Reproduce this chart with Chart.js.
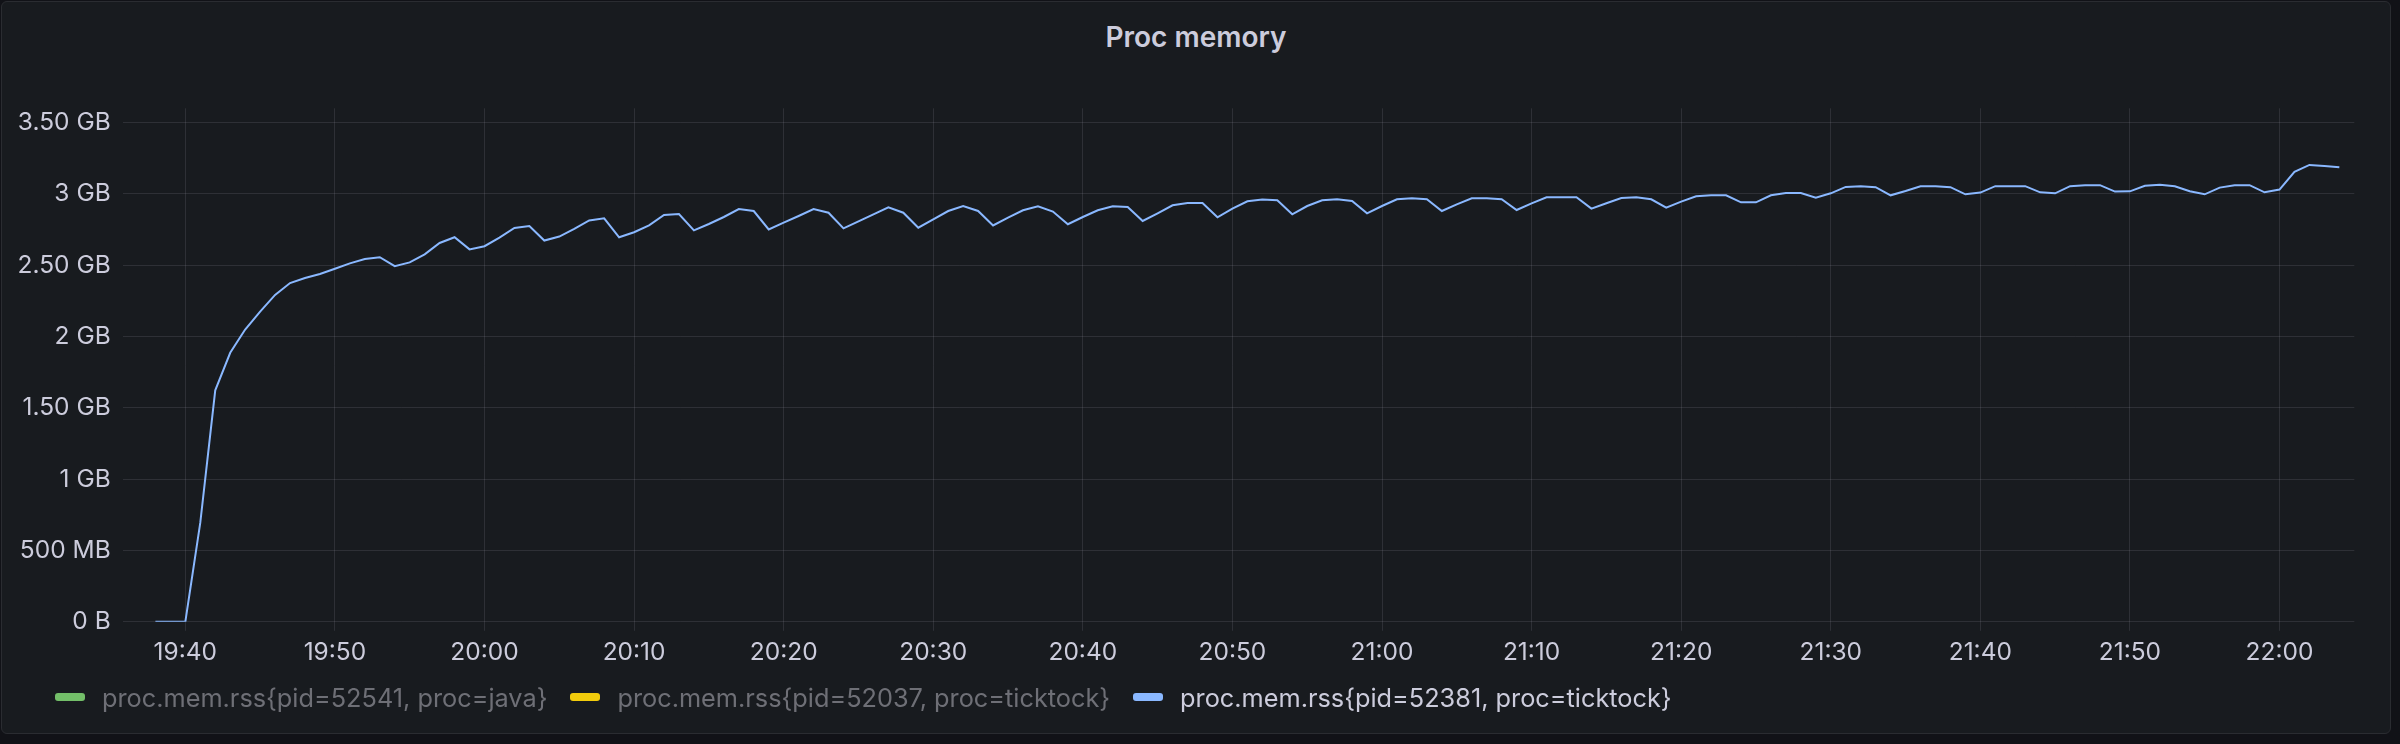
<!DOCTYPE html>
<html>
<head>
<meta charset="utf-8">
<script src="https://cdn.jsdelivr.net/npm/chart.js@4.4.1/dist/chart.umd.min.js"></script>
<style>
  html, body { margin: 0; padding: 0; background: #111217; width: 2400px; height: 744px; overflow: hidden; }
  #panel { position: absolute; left: 1px; top: 1px; width: 2390px; height: 733px; box-sizing: border-box;
           background: #181b1f; border: 1px solid #2a2c31; border-radius: 6px; }
  #chart { position: absolute; left: 0; top: 0; }
  #title { position: absolute; left: 0; width: 2392px; top: 19.5px; line-height: 34px; text-align: center;
           font-family: Inter, "Noto Sans", sans-serif; font-size: 28px; font-weight: 600; color: #ccccdc; }
  #legend { position: absolute; left: 55px; top: 682px; height: 30px; display: flex; align-items: center;
            font-family: Inter, "Noto Sans", sans-serif; font-size: 25.3px; white-space: nowrap; }
  .item { display: flex; align-items: center; margin-right: 23px; }
  .swatch { width: 30px; height: 8px; border-radius: 3px; margin-right: 17px; }
</style>
</head>
<body>
<div id="panel"></div>
<div id="title"></div>
<canvas id="chart" width="2400" height="744"></canvas>
<div id="legend"></div>
<script>
// ---- data ----
const TITLE = 'Proc memory';
const START_TIME = '19:38';      // first sample
const STEP_MINUTES = 1;          // sampling interval
// proc.mem.rss{pid=52381, proc=ticktock}, in GB, one value per minute from 19:38 to 22:04
const memoryGB = [
  0, 0, 0, 0.695, 1.623, 1.886, 2.049, 2.175, 2.292, 2.375,
  2.41, 2.438, 2.475, 2.513, 2.543, 2.556, 2.493, 2.52, 2.576, 2.656,
  2.696, 2.611, 2.633, 2.694, 2.761, 2.774, 2.673, 2.701, 2.754, 2.814,
  2.829, 2.696, 2.731, 2.779, 2.852, 2.859, 2.744, 2.789, 2.838, 2.894,
  2.88, 2.751, 2.798, 2.845, 2.894, 2.868, 2.758, 2.807, 2.857, 2.906,
  2.868, 2.763, 2.822, 2.88, 2.915, 2.88, 2.779, 2.834, 2.885, 2.913,
  2.876, 2.787, 2.838, 2.885, 2.913, 2.908, 2.81, 2.864, 2.92, 2.936,
  2.936, 2.836, 2.897, 2.948, 2.96, 2.955, 2.857, 2.915, 2.955, 2.962,
  2.95, 2.864, 2.915, 2.962, 2.969, 2.962, 2.88, 2.927, 2.969, 2.969,
  2.962, 2.887, 2.934, 2.976, 2.976, 2.976, 2.897, 2.934, 2.971, 2.976,
  2.962, 2.904, 2.946, 2.983, 2.99, 2.99, 2.941, 2.941, 2.99, 3.006,
  3.006, 2.974, 3.004, 3.049, 3.054, 3.047, 2.99, 3.02, 3.054, 3.054,
  3.047, 2.997, 3.009, 3.054, 3.054, 3.054, 3.011, 3.004, 3.054, 3.061,
  3.061, 3.016, 3.018, 3.057, 3.064, 3.054, 3.018, 2.997, 3.044, 3.061,
  3.061, 3.011, 3.03, 3.154, 3.203, 3.196, 3.187
];
const xTickLabels = ['19:40','19:50','20:00','20:10','20:20','20:30','20:40','20:50',
                     '21:00','21:10','21:20','21:30','21:40','21:50','22:00'];
const xRange = ['19:35:50', '22:05:00'];
const yTickValues = [0, 0.5, 1, 1.5, 2, 2.5, 3, 3.5];
const yTickLabels = ['0 B', '500 MB', '1 GB', '1.50 GB', '2 GB', '2.50 GB', '3 GB', '3.50 GB'];
const yMax = 3.6;
const seriesLabels = ['proc.mem.rss{pid=52541, proc=java}',
                      'proc.mem.rss{pid=52037, proc=ticktock}',
                      'proc.mem.rss{pid=52381, proc=ticktock}'];
const seriesColors = ['#73bf69', '#f2cc0c', '#8ab8ff'];
const seriesHidden = [true, true, false];

// ---- helpers ----
function toMinutes(t) {
  const p = t.split(':').map(Number);
  return p[0] * 60 + p[1] + (p[2] || 0) / 60;
}
const startMin = toMinutes(START_TIME);
const points = memoryGB.map((v, i) => ({ x: startMin + i * STEP_MINUTES, y: v }));
const xTickValues = xTickLabels.map(toMinutes);

const FONT = 'Inter, "Noto Sans", sans-serif';
const TEXT = '#ccccdc';
const GRID = 'rgba(204,204,220,0.12)';

function draw() {
  document.getElementById('title').textContent = TITLE;

  new Chart(document.getElementById('chart'), {
    type: 'line',
    data: {
      datasets: [
        { label: seriesLabels[0], data: [], borderColor: seriesColors[0], hidden: true },
        { label: seriesLabels[1], data: [], borderColor: seriesColors[1], hidden: true },
        { label: seriesLabels[2], data: points, borderColor: seriesColors[2], borderWidth: 2,
          pointRadius: 0, tension: 0, fill: false }
      ]
    },
    options: {
      responsive: false,
      animation: false,
      devicePixelRatio: 1,
      layout: { padding: { left: 0, right: 45.7, top: 108.3, bottom: 0 } },
      plugins: {
        legend: { display: false },
        tooltip: { enabled: false },
        title: { display: false }
      },
      scales: {
        x: {
          type: 'linear',
          min: toMinutes(xRange[0]),
          max: toMinutes(xRange[1]),
          afterBuildTicks: (s) => { s.ticks = xTickValues.map(v => ({ value: v })); },
          afterFit: (s) => { s.height = 122.2; },
          border: { display: false },
          grid: { color: GRID, lineWidth: 1, drawTicks: true, tickLength: 9 },
          ticks: {
            autoSkip: false, maxRotation: 0, padding: 7,
            color: TEXT, font: { family: FONT, size: 24.5 },
            callback: (v) => xTickLabels[xTickValues.indexOf(v)]
          }
        },
        y: {
          min: 0, max: yMax,
          afterBuildTicks: (s) => { s.ticks = yTickValues.map(v => ({ value: v })); },
          afterFit: (s) => { s.width = 123; },
          border: { display: false },
          grid: { color: GRID, lineWidth: 1, drawTicks: false },
          ticks: {
            padding: 12.3, color: TEXT, font: { family: FONT, size: 24.5 },
            callback: (v) => yTickLabels[yTickValues.indexOf(v)]
          }
        }
      }
    }
  });

  const legend = document.getElementById('legend');
  seriesLabels.forEach((label, i) => {
    const item = document.createElement('div');
    item.className = 'item';
    const sw = document.createElement('div');
    sw.className = 'swatch';
    sw.style.background = seriesColors[i];
    const tx = document.createElement('span');
    tx.textContent = label;
    tx.style.color = seriesHidden[i] ? '#6e6f76' : TEXT;
    item.appendChild(sw);
    item.appendChild(tx);
    legend.appendChild(item);
  });
}

if (document.fonts && document.fonts.load) {
  Promise.all([document.fonts.load('24px Inter'), document.fonts.load('600 28px Inter')])
    .then(draw, draw);
} else { draw(); }
</script>
</body>
</html>
